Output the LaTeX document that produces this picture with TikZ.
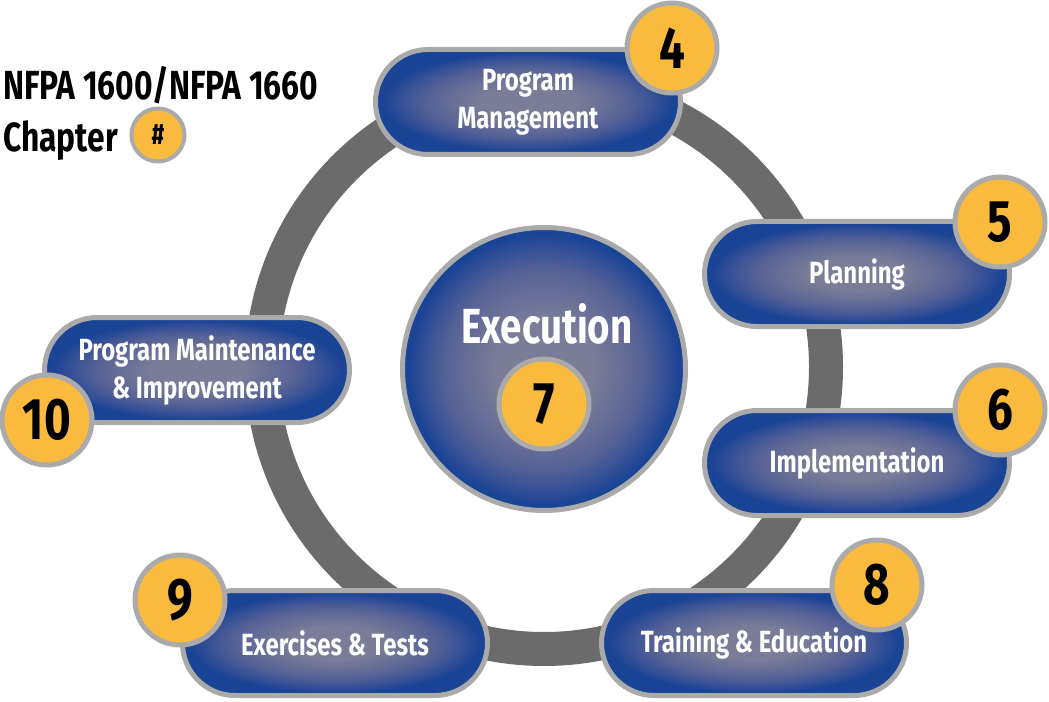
\documentclass[tikz,border=0pt]{standalone}
\usepackage{fontspec}
\setmainfont{Fira Sans}[FakeStretch=0.78]
\definecolor{pc}{RGB}{122,124,152}
\definecolor{pm}{RGB}{84,96,150}
\definecolor{pe}{RGB}{26,68,150}
\definecolor{bordergray}{RGB}{170,170,170}
\definecolor{ringgray}{RGB}{107,107,107}
\definecolor{numorange}{RGB}{249,186,62}
\pgfdeclareradialshading{bluepill}{\pgfpoint{0bp}{0bp}}{color(0bp)=(pc); color(8bp)=(pc); color(17bp)=(pm); color(24bp)=(pe); color(50bp)=(pe)}
\pgfdeclareradialshading{bluedisc}{\pgfpoint{0bp}{0bp}}{color(0bp)=(pc); color(9bp)=(pc); color(18bp)=(pm); color(24bp)=(pe); color(50bp)=(pe)}
\begin{document}
\begin{tikzpicture}[x=0.75pt,y=-0.75pt,
  pill/.style={rectangle, rounded corners=39.375pt, minimum width=228.75pt, minimum height=78.75pt,
    draw=bordergray, line width=3.75pt, shade, shading=bluepill, inner sep=0pt, text=white,
    font=\bfseries\fontsize{23}{28.5}\selectfont, align=center},
  num/.style={circle, minimum size=67.5pt, inner sep=0pt, draw=bordergray, line width=3.75pt,
    fill=numorange, text=black, font=\bfseries\fontsize{44}{44}\selectfont},
  hub/.style={circle, minimum size=212.25pt, inner sep=0pt, draw=bordergray, line width=3.75pt,
    shade, shading=bluedisc},
  ring/.style={draw=ringgray, line width=25.5pt}]
\useasboundingbox (0,0) rectangle (1049,702);
\fill[white] (0,0) rectangle (1049,702);
% ring
\coordinate (c) at (544,367);
\draw[ring] (c) circle [radius=282];
% hub
\node[hub] (exec) at (544,369) {};
\node[text=white, font=\bfseries\fontsize{37}{37}\selectfont] (exectext) at (547,324) {Execution};
\node[num] (n7) at (544,404) {7};
% pills
\node[pill] (pm) at (528,102) {Program\\Management};
\node[pill] (pl) at (857,274) {Planning};
\node[pill] (im) at (857,463) {Implementation};
\node[pill] (te) at (754,643) {Training \& Education};
\node[pill] (et) at (335,643) {Exercises \& Tests};
\node[pill] (mi) at (197,370) {Program Maintenance\\\& Improvement};
% numbers
\node[num] (n4) at (672,48) {4};
\node[num] (n5) at (1000,222) {5};
\node[num] (n6) at (1000,410) {6};
\node[num] (n8) at (877,585) {8};
\node[num] (n9) at (180,600) {9};
\node[num] (n10) at (47,420) {10};
% legend
\node[anchor=base west, inner sep=0pt, font=\bfseries\fontsize{30.5}{30.5}\selectfont] (title) at (3,100) {NFPA 1600/NFPA 1660};
\node[anchor=base west, inner sep=0pt, font=\bfseries\fontsize{30.5}{30.5}\selectfont] (chap) at (3,152) {Chapter};
\node[circle, minimum size=39.75pt, inner sep=0pt, draw=bordergray, line width=3pt, fill=numorange,
  font=\bfseries\fontsize{22}{22}\selectfont] (hash) at (158,135) {\#};
\end{tikzpicture}
\end{document}
